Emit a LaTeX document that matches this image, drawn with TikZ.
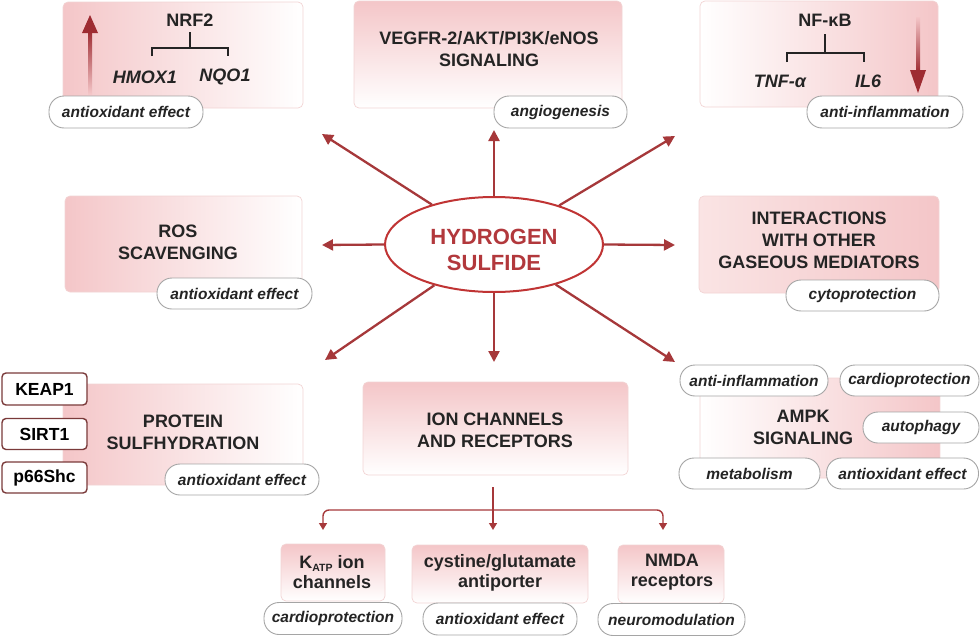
\documentclass[tikz,border=0pt]{standalone}
\usepackage{fontspec}
\setmainfont{Liberation Sans}
\usetikzlibrary{arrows.meta,shapes.geometric}
\definecolor{boxpink}{RGB}{244,198,200}
\definecolor{palepink}{RGB}{250,228,228}
\definecolor{boxline}{RGB}{242,212,212}
\definecolor{pillgray}{RGB}{165,165,165}
\definecolor{txt}{RGB}{36,36,36}
\definecolor{arrred}{RGB}{166,56,58}
\definecolor{bigred}{RGB}{158,44,50}
\definecolor{ellred}{RGB}{192,52,52}
\definecolor{elltxt}{RGB}{178,56,60}
\definecolor{smallbox}{RGB}{122,58,58}
\newcommand{\headf}{\fontsize{18}{22}\selectfont\bfseries}
\newcommand{\lowf}{\fontsize{18}{20}\selectfont\bfseries}
\newcommand{\genef}{\fontsize{18}{22}\selectfont\bfseries\itshape}
\newcommand{\pillf}{\fontsize{15.5}{18}\selectfont\bfseries\itshape}
\newcommand{\hsf}{\fontsize{22}{26}\selectfont\bfseries}
\newcommand{\tagf}{\fontsize{17.5}{20}\selectfont\bfseries}
\begin{document}
\begin{tikzpicture}[x=1pt,y=-1pt,
  box/.style={draw=boxline, line width=0.7pt, rounded corners=5pt, inner sep=0pt},
  gradLR/.style={box, left color=boxpink, right color=white},
  gradRL/.style={box, left color=white, right color=boxpink},
  gradTB/.style={box, top color=boxpink, bottom color=white},
  head/.style={font=\headf, text=txt, align=center, inner sep=0pt},
  low/.style={font=\lowf, text=txt, align=center, inner sep=0pt},
  gene/.style={font=\genef, text=txt, inner sep=0pt},
  pill/.style={draw=pillgray, fill=white, line width=0.9pt, rounded corners=15pt, minimum height=31pt, inner sep=0pt, font=\pillf, text=txt},
  arr/.style={draw=arrred, line width=2.3pt, -{Triangle[length=11pt,width=11pt]}},
  brarr/.style={draw=arrred, line width=1.4pt, rounded corners=6pt, -{Triangle[length=7pt,width=8pt]}},
  bracket/.style={draw=txt, line width=1.5pt},
  tagbox/.style={draw=smallbox, fill=white, line width=1.4pt, rounded corners=4pt, minimum width=85pt, minimum height=32pt, inner sep=0pt, font=\tagf, text=black}
]
\useasboundingbox (0,0) rectangle (980,637);

% ---------- boxes ----------
\node[gradLR, minimum width=240pt, minimum height=106pt] (nrf2box) at (183,55) {};
\node[gradTB, minimum width=268pt, minimum height=107pt] (vegfbox) at (488,54.5) {};
\node[gradRL, minimum width=238pt, minimum height=106pt] (nfkbbox) at (819,54) {};
\node[gradLR, minimum width=237pt, minimum height=96pt] (rosbox) at (183.5,244) {};
\node[box, left color=palepink, right color=boxpink, minimum width=240pt, minimum height=97pt] (interbox) at (819,244.5) {};
\node[gradLR, minimum width=240pt, minimum height=101pt] (protbox) at (183,434.5) {};
\node[gradTB, minimum width=265pt, minimum height=93pt] (ionbox) at (495.5,428.5) {};
\node[gradRL, minimum width=240pt, minimum height=100pt] (ampkbox) at (820,428) {};
\node[gradTB, minimum width=104pt, minimum height=57pt] (katpbox) at (333,572.5) {};
\node[gradTB, minimum width=176pt, minimum height=58pt] (cystbox) at (500,574) {};
\node[gradTB, minimum width=106pt, minimum height=58pt] (nmdabox) at (671,574) {};

% ---------- NRF2 ----------
\shade[top color=bigred, bottom color=boxpink] (88,31) rectangle (92,94);
\fill[bigred] (82,33) -- (98,33) -- (90,15) -- cycle;
\node[head] (nrf2) at (190,20) {NRF2};
\draw[bracket] (nrf2.south) ++(0,6) -- ++(0,16);
\draw[bracket] (152,56) -- (152,48) -- (228,48) -- (228,56);
\node[gene] (hmox) at (145,77) {HMOX1};
\node[gene] (nqo) at (225,77) {NQO1};

% ---------- VEGFR ----------
\node[head] (vegf) at (489,49) {VEGFR-2/AKT/PI3K/eNOS\\SIGNALING};

% ---------- NF-kB ----------
\shade[top color=boxpink, bottom color=bigred] (916,17) rectangle (920,72);
\fill[bigred] (910,70) -- (926,70) -- (918,93) -- cycle;
\node[head] (nfkb) at (825,20) {NF-κB};
\draw[bracket] (nfkb.south) ++(0,8) -- ++(0,18);
\draw[bracket] (787,62) -- (787,53) -- (864,53) -- (864,62);
\node[gene] (tnf) at (780,81) {TNF-α};
\node[gene] (il6) at (868,81) {IL6};

% ---------- other headings ----------
\node[head] (ros) at (178,242.5) {ROS\\SCAVENGING};
\node[head] (inter) at (819,240) {INTERACTIONS\\WITH OTHER\\GASEOUS MEDIATORS};
\node[head] (prot) at (183,432) {PROTEIN\\SULFHYDRATION};
\node[head] (ion) at (495,430) {ION CHANNELS\\AND RECEPTORS};
\node[head] (ampk) at (803,427.5) {AMPK\\SIGNALING};
\node[low] (katp) at (332,572.5) {K\raisebox{-0.3ex}{\fontsize{10.5}{10.5}\selectfont ATP} ion\\channels};
\node[low] (cyst) at (500,572.5) {cystine/glutamate\\antiporter};
\node[low] (nmda) at (672,572.5) {NMDA\\receptors};

% ---------- small tag boxes ----------
\node[tagbox] (keap) at (44.5,389) {KEAP1};
\node[tagbox, minimum height=31pt] (sirt) at (44.5,434) {SIRT1};
\node[tagbox, minimum height=31pt] (p66) at (44.5,477.5) {p66Shc};

% ---------- central ellipse and arrows ----------
\coordinate (tipUL) at (322,134);
\coordinate (tipU) at (494,130);
\coordinate (tipUR) at (675,136);
\coordinate (tipL) at (322,245);
\coordinate (tipR) at (675,245);
\coordinate (tipDL) at (325,360);
\coordinate (tipD) at (494,362);
\coordinate (tipDR) at (675,362);
\node[ellipse, draw=ellred, line width=2pt, fill=white, minimum width=218pt, minimum height=95pt, inner sep=0pt] (hs) at (494,244.5) {};
\node[font=\hsf, text=elltxt, align=center, inner sep=0pt] (hst) at (494,250) {HYDROGEN\\SULFIDE};
\draw[arr] (hs) -- (tipUL);
\draw[arr] (hs.north) -- (tipU);
\draw[arr] (hs) -- (tipUR);
\draw[arr] (hs.west) -- (tipL);
\draw[arr] (hs.east) -- (tipR);
\draw[arr] (hs) -- (tipDL);
\draw[arr] (hs.south) -- (tipD);
\draw[arr] (hs) -- (tipDR);

% ---------- bottom branching ----------
\coordinate (bs) at (493,487);
\coordinate (bj) at (493,510);
\coordinate (ak) at (323,530);
\coordinate (ac) at (493,530);
\coordinate (an) at (663,530);
\draw[brarr] (bs) -- (ac);
\draw[brarr] (bj) -- (ak |- bj) -- (ak);
\draw[brarr] (bj) -- (an |- bj) -- (an);

% ---------- pills ----------
\node[pill, minimum width=154pt, minimum height=32pt] (p-nrf2) at (126,112) {antioxidant effect};
\node[pill, minimum width=133pt, minimum height=32pt] (p-vegf) at (560.5,112) {angiogenesis};
\node[pill, minimum width=156pt, minimum height=32pt] (p-nfkb) at (885,112) {anti-inflammation};
\node[pill, minimum width=155pt] (p-ros) at (234.5,293.5) {antioxidant effect};
\node[pill, minimum width=153pt] (p-inter) at (862.5,295.5) {cytoprotection};
\node[pill, minimum width=154pt] (p-prot) at (242,479.5) {antioxidant effect};
\node[pill, minimum width=148pt] (p-a1) at (754,380.5) {anti-inflammation};
\node[pill, minimum width=139pt] (p-a2) at (909.5,380.5) {cardioprotection};
\node[pill, minimum width=116pt] (p-a3) at (921,427.5) {autophagy};
\node[pill, minimum width=141pt] (p-a4) at (749.5,473.5) {metabolism};
\node[pill, minimum width=152pt] (p-a5) at (902.5,473.5) {antioxidant effect};
\node[pill, minimum width=138pt, minimum height=32pt] (p-katp) at (333,618.5) {cardioprotection};
\node[pill, minimum width=154pt, minimum height=32pt] (p-cyst) at (500,619) {antioxidant effect};
\node[pill, minimum width=147pt, minimum height=32pt] (p-nmda) at (671.5,619.5) {neuromodulation};
\end{tikzpicture}
\end{document}
